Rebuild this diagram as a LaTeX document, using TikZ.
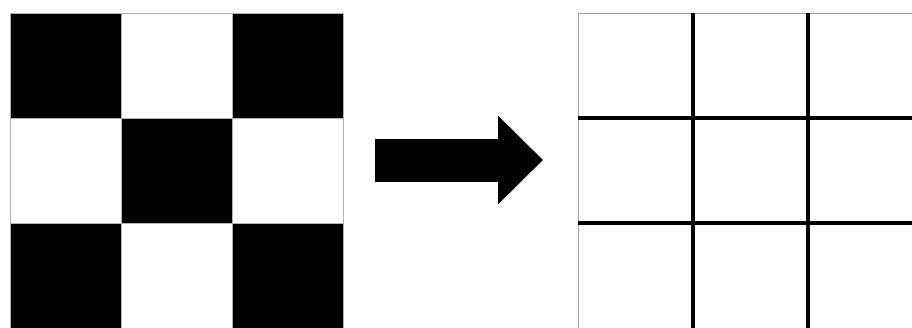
\documentclass[tikz,border=0pt]{standalone}
\usetikzlibrary{positioning,arrows.meta}

\tikzset{
  blk/.style={draw=gray!60,fill=black,minimum width=111pt,minimum height=105pt,inner sep=0pt,outer sep=0pt,line width=0.8pt},
  wht/.style={blk,fill=white},
  cell/.style={draw=gray!70,fill=white,minimum width=115pt,minimum height=105pt,inner sep=0pt,outer sep=0pt,line width=1pt},
  gridline/.style={line width=3.5pt,black},
  bigarrow/.style={-{Triangle[length=45pt,width=86pt]},line width=43pt}
}

\begin{document}
\begin{tikzpicture}[x=1pt,y=-1pt]
  \clip (0,0) rectangle (912,327);
  \fill[white] (0,0) rectangle (912,327);

  % checkerboard
  \foreach \row/\col in {0/1,1/0,1/2,2/1}
    \node[wht] (L\row\col) at ({65.5+111*\col},{65.5+105*\row}) {};
  \foreach \row/\col in {0/0,0/2,1/1,2/0,2/2}
    \node[blk] (L\row\col) at ({65.5+111*\col},{65.5+105*\row}) {};

  % empty grid
  \foreach \row in {0,1,2}
    \foreach \col in {0,1,2}
      \node[cell] (R\row\col) at ({635.5+115*\col},{65.5+105*\row}) {};

  \draw[gridline] (R00.north east) -- (R20.south east);
  \draw[gridline] (R01.north east) -- (R21.south east);
  \draw[gridline] (R00.south west) -- (R02.south east);
  \draw[gridline] (R10.south west) -- (R12.south east);

  % arrow
  \coordinate (from) at (375,160);
  \coordinate (to) at (543,160);
  \draw[bigarrow] (from) -- (to);
\end{tikzpicture}
\end{document}
